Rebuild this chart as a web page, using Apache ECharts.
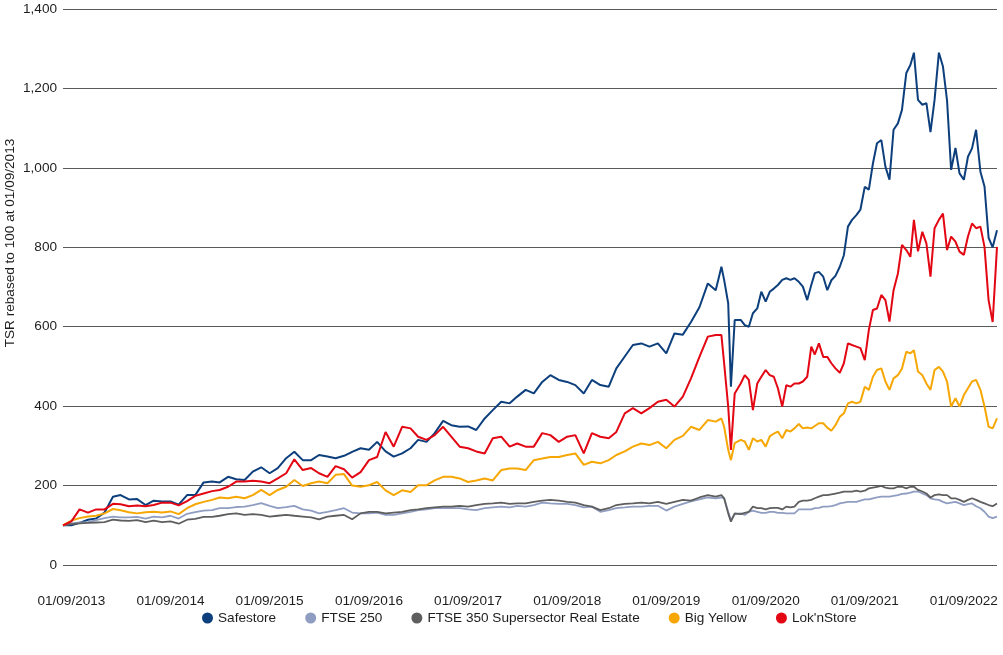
<!DOCTYPE html>
<html>
<head>
<meta charset="utf-8">
<script src="https://cdn.jsdelivr.net/npm/echarts@6/dist/echarts.min.js"></script>
<style>
  html, body { margin: 0; padding: 0; background: #ffffff; }
  #chart { width: 1003px; height: 655px; }
</style>
</head>
<body>
<div id="chart"></div>
<script>
// Observation dates (monthly to mid-2020, with extra points in the 2020 sell-off, semi-monthly afterwards)
const dates = [
  '2013-08-01','2013-09-01','2013-10-01','2013-11-01','2013-12-01',
  '2014-01-01','2014-02-01','2014-03-01','2014-04-01','2014-05-01','2014-06-01','2014-07-01','2014-08-01','2014-09-01','2014-10-01','2014-11-01','2014-12-01',
  '2015-01-01','2015-02-01','2015-03-01','2015-04-01','2015-05-01','2015-06-01','2015-07-01','2015-08-01','2015-09-01','2015-10-01','2015-11-01','2015-12-01',
  '2016-01-01','2016-02-01','2016-03-01','2016-04-01','2016-05-01','2016-06-01','2016-07-01','2016-08-01','2016-09-01','2016-10-01','2016-11-01','2016-12-01',
  '2017-01-01','2017-02-01','2017-03-01','2017-04-01','2017-05-01','2017-06-01','2017-07-01','2017-08-01','2017-09-01','2017-10-01','2017-11-01','2017-12-01',
  '2018-01-01','2018-02-01','2018-03-01','2018-04-01','2018-05-01','2018-06-01','2018-07-01','2018-08-01','2018-09-01','2018-10-01','2018-11-01','2018-12-01',
  '2019-01-01','2019-02-01','2019-03-01','2019-04-01','2019-05-01','2019-06-01','2019-07-01','2019-08-01','2019-09-01','2019-10-01','2019-11-01','2019-12-01',
  '2020-01-01','2020-02-01','2020-03-01','2020-03-22','2020-04-01','2020-04-16','2020-04-26','2020-05-10','2020-06-01','2020-06-16','2020-07-01','2020-07-16','2020-08-01','2020-08-16','2020-09-01','2020-09-16','2020-10-01','2020-10-16','2020-11-01','2020-11-16','2020-12-01','2020-12-16',
  '2021-01-01','2021-01-16','2021-02-01','2021-02-16','2021-03-01','2021-03-16','2021-04-01','2021-04-16','2021-05-01','2021-05-16','2021-06-01','2021-06-16','2021-07-01','2021-07-16','2021-08-01','2021-08-16','2021-09-01','2021-09-16','2021-10-01','2021-10-16','2021-11-01','2021-11-16','2021-12-01','2021-12-16',
  '2022-01-01','2022-01-16','2022-02-01','2022-02-16','2022-03-01','2022-03-16','2022-04-01','2022-04-16','2022-05-01','2022-05-16','2022-06-01','2022-06-16','2022-07-01','2022-07-16','2022-08-01','2022-08-16','2022-09-01','2022-09-16','2022-10-01','2022-10-16','2022-11-01','2022-11-16','2022-12-01','2022-12-16',
  '2023-01-01'
];

const safestore = [
  100,100,106,114,117,
  132,172,176,165,166,151,162,160,160,152,176,176,
  208,210,208,222,216,214,235,246,231,244,269,285,
  264,264,277,273,269,275,285,294,290,310,286,273,
  281,294,315,310,332,363,352,348,349,340,369,390,
  411,407,424,441,432,461,478,466,461,453,432,466,
  453,449,495,525,554,558,550,558,533,583,580,612,
  649,709,692,751,718,659,449,617,617,604,600,634,646,688,663,688,696,705,718,722,718,722,
  713,701,667,705,735,738,726,692,717,728,751,780,852,869,881,895,952,945,1011,1062,1070,1003,970,1096,
  1112,1146,1239,1259,1290,1171,1159,1163,1090,1171,1290,1255,1170,995,1050,986,970,1028,1049,1096,990,953,824,800,
  843
];

const ftse250 = [
  100,105,107,108,113,
  118,122,120,120,121,117,122,120,124,117,129,133,
  137,138,143,143,146,147,151,156,149,143,146,149,
  140,137,130,134,138,143,132,130,130,132,126,126,
  130,134,138,140,143,143,143,143,140,138,143,145,
  147,145,149,147,151,157,155,154,154,151,145,147,
  134,138,143,145,147,147,149,149,137,147,154,160,
  165,170,168,170,168,134,113,128,130,126,134,137,134,131,131,134,134,131,131,130,130,130,
  140,140,140,140,143,144,147,147,148,151,155,157,159,159,159,162,165,165,168,170,172,172,172,174,
  176,179,180,182,185,185,180,176,168,165,164,159,155,157,159,155,151,153,155,148,143,134,122,118,
  122
];

const ftse350RealEstate = [
  100,103,105,106,107,
  108,114,112,111,113,108,112,108,110,104,114,116,
  121,121,124,128,130,126,128,126,122,124,126,124,
  122,120,115,122,124,126,115,130,134,134,130,132,
  134,138,140,143,145,147,147,149,147,151,154,155,
  157,154,155,155,159,162,164,162,159,157,151,147,
  138,143,151,154,155,157,155,159,154,159,164,162,
  170,176,172,176,168,130,109,130,128,131,134,147,143,143,140,143,144,144,140,147,145,147,
  159,162,162,164,168,172,176,176,178,180,182,185,185,185,187,185,187,193,195,197,199,195,193,193,
  197,197,193,197,197,189,185,180,170,176,178,176,176,168,168,164,159,164,168,164,159,155,151,148,
  155
];

const bigYellow = [
  100,112,118,122,124,
  130,141,138,133,130,133,134,132,135,128,143,153,
  159,164,170,168,172,168,176,189,176,189,197,214,
  199,206,210,206,227,229,200,197,201,209,188,176,
  188,184,201,201,213,222,222,218,209,213,218,213,
  239,243,243,239,264,268,272,272,277,281,252,260,
  256,264,277,286,298,306,302,310,294,315,325,348,
  340,365,361,369,348,290,264,307,315,311,290,319,311,315,298,324,331,336,319,340,336,344,
  355,344,346,344,350,357,357,346,338,352,373,382,407,411,407,411,449,441,474,491,495,462,441,470,
  478,495,537,533,541,487,478,457,441,491,499,487,462,399,420,399,428,445,462,466,441,399,348,344,
  369
];

const loknStore = [
  100,110,140,132,140,
  140,154,153,148,150,148,151,157,157,150,161,174,
  180,186,189,197,210,210,212,210,206,218,231,266,
  239,244,231,222,249,241,220,234,264,272,335,298,
  348,344,323,315,327,348,323,298,294,286,281,319,
  323,298,306,298,298,332,327,310,323,327,281,332,
  323,319,335,382,395,382,395,411,416,399,424,470,
  524,575,579,579,508,399,290,432,457,478,466,390,457,474,491,478,474,445,399,453,449,457,
  457,462,474,550,530,558,524,524,508,495,484,508,558,554,550,546,516,592,642,646,680,667,613,692,
  734,806,793,776,869,790,839,810,726,848,869,885,793,827,814,789,781,827,860,848,852,801,667,612,
  801
];

const seriesNames = ['Safestore','FTSE 250','FTSE 350 Supersector Real Estate','Big Yellow',"Lok'nStore"];
const seriesColors = ['#0d3f7d','#8f9dc2','#5e5e5e','#f6a704','#e30613'];

const tickDates = ['2013-09-01','2014-09-01','2015-09-01','2016-09-01','2017-09-01','2018-09-01','2019-09-01','2020-09-01','2021-09-01','2022-09-01'];
const tickLabels = ['01/09/2013','01/09/2014','01/09/2015','01/09/2016','01/09/2017','01/09/2018','01/09/2019','01/09/2020','01/09/2021','01/09/2022'];

const yTitle = 'TSR rebased to 100 at 01/09/2013';

function ts(s) {
  const p = s.split('-').map(Number);
  return Date.UTC(p[0], p[1] - 1, p[2]);
}
const times = dates.map(ts);
const tickTimes = tickDates.map(ts);

const FONT = "'Liberation Sans', Arial, Helvetica, sans-serif";
const TEXT = '#1e1e1e';

const allValues = [safestore, ftse250, ftse350RealEstate, bigYellow, loknStore];

const chart = echarts.init(document.getElementById('chart'), null, { renderer: 'canvas' });

chart.setOption({
  animation: false,
  backgroundColor: '#ffffff',
  textStyle: { fontFamily: FONT },
  grid: { left: 63, right: 6, top: 9, bottom: 90, containLabel: false },
  xAxis: {
    type: 'value',
    min: times[0],
    max: times[times.length - 1],
    axisLine: { show: false },
    axisTick: { show: false },
    splitLine: { show: false },
    axisLabel: {
      customValues: tickTimes,
      margin: 29,
      color: TEXT,
      fontSize: 13.6,
      fontFamily: FONT,
      hideOverlap: false,
      formatter: function (v) {
        let best = 0;
        for (let i = 1; i < tickTimes.length; i++) {
          if (Math.abs(tickTimes[i] - v) < Math.abs(tickTimes[best] - v)) best = i;
        }
        return tickLabels[best];
      }
    }
  },
  yAxis: {
    type: 'value',
    min: 0,
    max: 1400,
    interval: 200,
    axisLine: { show: false },
    axisTick: { show: false },
    axisLabel: {
      margin: 6,
      color: TEXT,
      fontSize: 13.6,
      fontFamily: FONT,
      formatter: function (v) { return v.toLocaleString('en-GB'); }
    },
    splitLine: { show: true, lineStyle: { color: '#5a5a5a', width: 1 } }
  },
  legend: {
    left: 202,
    top: 611,
    padding: 0,
    itemWidth: 11,
    itemHeight: 11,
    itemGap: 29,
    icon: 'circle',
    textStyle: { color: TEXT, fontSize: 13.6, fontFamily: FONT },
    data: seriesNames
  },
  graphic: [{
    type: 'text',
    x: 10,
    y: 243,
    rotation: Math.PI / 2,
    style: {
      text: yTitle,
      fill: TEXT,
      font: '13.6px ' + FONT,
      align: 'center',
      verticalAlign: 'middle'
    }
  }],
  series: seriesNames.map(function (name, k) {
    return {
      name: name,
      type: 'line',
      symbol: 'none',
      showSymbol: false,
      smooth: false,
      itemStyle: { color: seriesColors[k] },
      lineStyle: { color: seriesColors[k], width: k === 1 || k === 2 ? 1.8 : 2 },
      data: times.map(function (t, i) { return [t, allValues[k][i]]; })
    };
  })
});
</script>
</body>
</html>
